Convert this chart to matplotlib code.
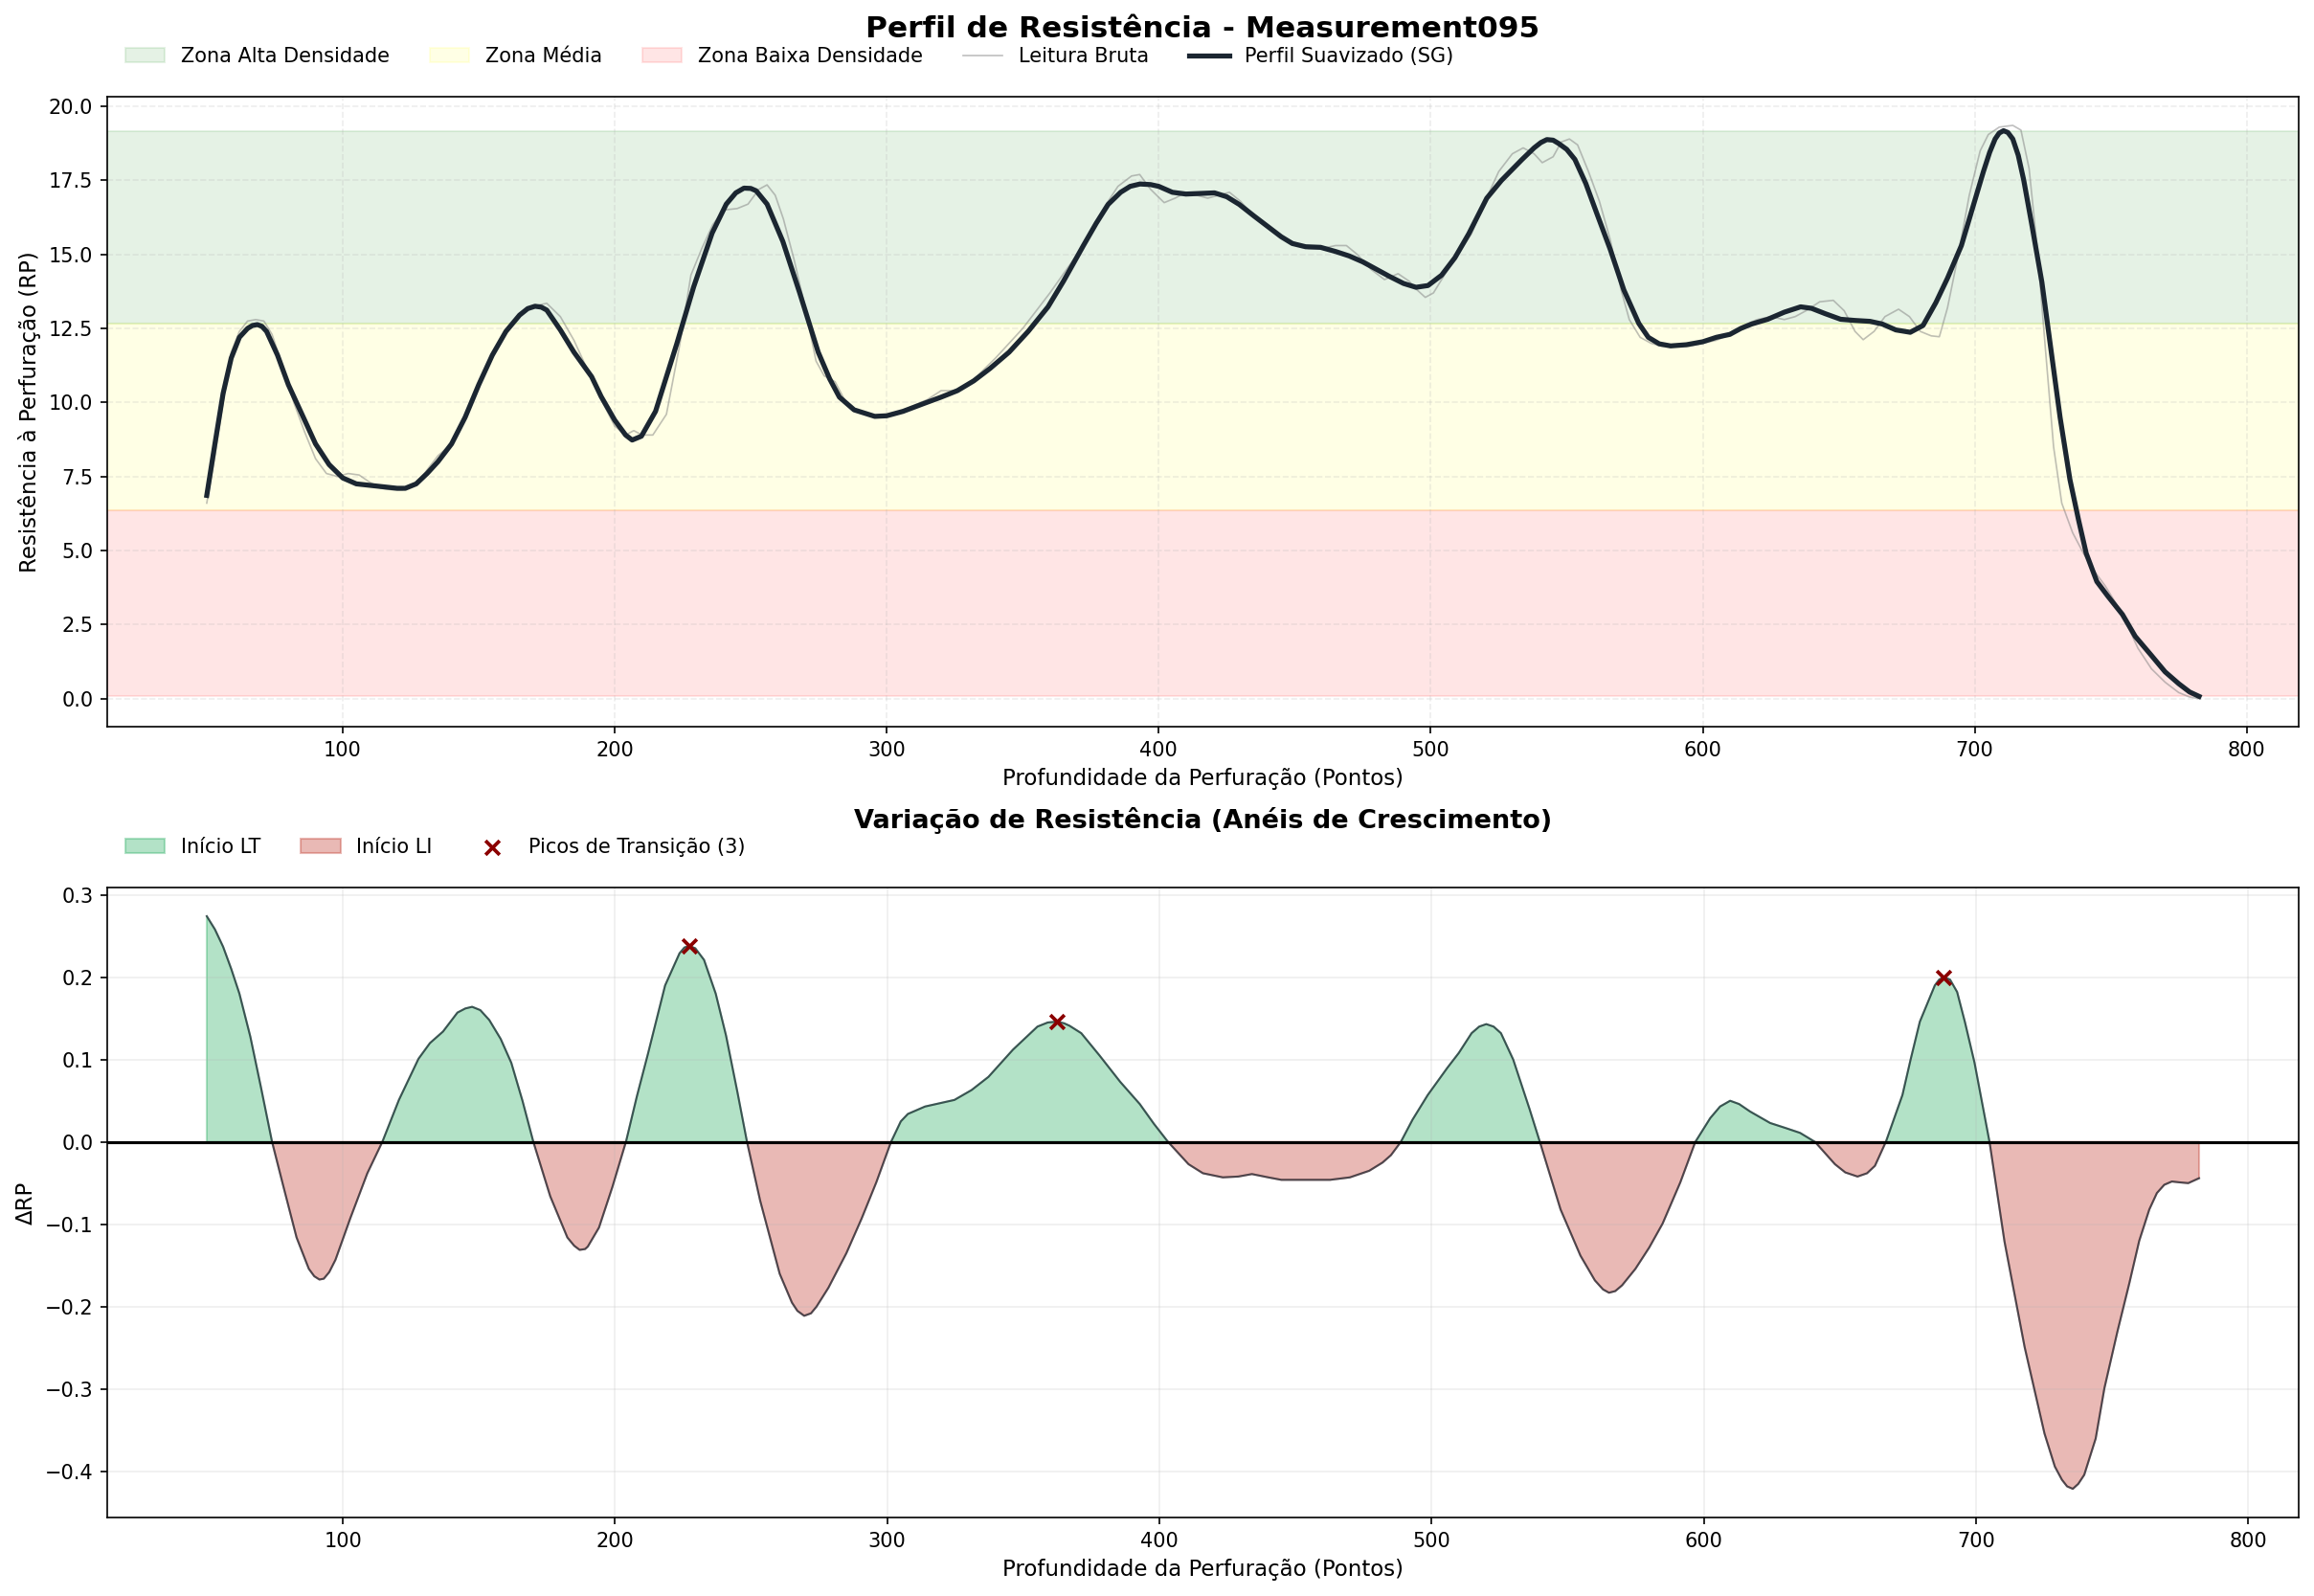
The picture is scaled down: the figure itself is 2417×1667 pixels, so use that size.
import matplotlib
matplotlib.use("Agg")
import matplotlib.pyplot as plt
import numpy as np

# ── Dados ───────────────────────────────────────────────────────────────────
sg_x = [50, 53, 56, 59, 62, 65, 66.8, 68.6, 70.3, 72, 76, 80, 85, 90, 95, 100, 105, 110, 115, 120,
        123, 127, 131, 135, 140, 145, 150, 155, 160, 165, 168, 170.7, 173, 175, 180, 185, 191.5,
        195, 200, 204, 206.4, 209.8, 215, 222.8, 229, 235.8, 241, 244.5, 247.5, 250, 252, 256,
        261.8, 268, 274.8, 279, 282.6, 288, 295.6, 300, 306, 313.8, 320, 326, 332, 338, 345, 352,
        359.3, 365, 372.3, 377, 381.4, 386, 389.5, 393.1, 397, 400, 405, 410, 415, 420.5, 425,
        429.6, 435, 440, 445, 449.1, 454, 459.5, 465, 470, 475, 480, 485, 490, 494.6, 499, 504,
        508.9, 514, 520.6, 526, 533.6, 538, 540.5, 542.7, 545, 547, 550, 553, 557, 561, 566, 571,
        576.5, 580, 584, 588.2, 594, 600, 605, 610, 614, 618, 623.9, 630, 636, 640, 645, 650.7,
        656, 661.5, 666, 671, 676.3, 681, 685.7, 690, 695.1, 699, 703.2, 705.5, 707.5, 709,
        710.6, 712.2, 714, 716, 718, 721, 724.7, 728, 731.4, 735, 738.2, 741, 744.9, 749, 754.3,
        759, 765, 770, 775, 779, 782.5]
sg_y = [6.86, 8.6, 10.3, 11.5, 12.2, 12.5, 12.6, 12.63, 12.57, 12.4, 11.6, 10.6, 9.6, 8.6, 7.9,
        7.45, 7.25, 7.2, 7.15, 7.1, 7.1, 7.25, 7.6, 8.0, 8.6, 9.5, 10.6, 11.6, 12.4, 12.95, 13.17,
        13.25, 13.22, 13.12, 12.45, 11.7, 10.87, 10.2, 9.4, 8.9, 8.73, 8.86, 9.7, 11.98, 13.9,
        15.72, 16.7, 17.08, 17.24, 17.23, 17.15, 16.7, 15.44, 13.7, 11.7, 10.8, 10.18, 9.75, 9.53,
        9.55, 9.7, 9.97, 10.18, 10.4, 10.73, 11.15, 11.7, 12.4, 13.23, 14.1, 15.3, 16.05, 16.69,
        17.1, 17.3, 17.38, 17.36, 17.3, 17.1, 17.04, 17.06, 17.08, 16.95, 16.69, 16.3, 15.95,
        15.6, 15.37, 15.26, 15.24, 15.1, 14.95, 14.75, 14.5, 14.25, 14.02, 13.89, 13.95, 14.3,
        14.89, 15.7, 16.9, 17.5, 18.21, 18.6, 18.78, 18.88, 18.86, 18.75, 18.55, 18.21, 17.4,
        16.4, 15.17, 13.8, 12.67, 12.2, 11.98, 11.91, 11.95, 12.05, 12.2, 12.3, 12.5, 12.65,
        12.81, 13.05, 13.23, 13.18, 13.0, 12.81, 12.77, 12.74, 12.65, 12.45, 12.37, 12.6, 13.37,
        14.2, 15.3, 16.5, 17.8, 18.45, 18.9, 19.1, 19.18, 19.12, 18.9, 18.35, 17.52, 16.0, 14.06,
        11.8, 9.49, 7.4, 6.02, 4.9, 3.95, 3.45, 2.84, 2.1, 1.45, 0.9, 0.5, 0.22, 0.07]

raw_x = [50, 53, 56, 59, 62, 65, 68, 71, 74, 78, 82, 86, 90, 94, 98, 102, 106, 110, 114, 118, 122,
         126, 130, 135, 140, 145, 150, 155, 160, 165, 170, 175, 180, 185, 190, 195, 200, 204, 207,
         210, 214, 219, 224, 228, 232, 236, 240, 245, 249, 253, 256, 259, 262, 266, 270, 274, 277,
         281, 285, 290, 295, 300, 305, 310, 315, 320, 325, 330, 340, 350, 360, 370, 375, 380, 385,
         390, 393, 397, 402, 406, 410, 414, 418, 422, 426, 430, 435, 440, 445, 450, 455, 460, 465,
         469, 473, 478, 483, 488, 492, 495, 498, 501, 505, 510, 515, 520, 525, 530, 534, 538, 541,
         545, 548, 551, 554, 558, 562, 566, 570, 573, 577, 581, 585, 590, 595, 600, 605, 610, 615,
         620, 625, 630, 634, 638, 643, 648, 652, 656, 659, 663, 667, 672, 676, 680, 684, 687, 690,
         694, 698, 702, 705, 709, 714, 717, 720, 723, 726, 729, 732, 736, 740, 744, 748, 752, 756,
         760, 765, 770, 775, 779, 782]
raw_y = [6.6, 8.2, 10.0, 11.7, 12.4, 12.75, 12.8, 12.75, 12.3, 11.2, 10.0, 9.0, 8.1, 7.6, 7.5,
         7.6, 7.55, 7.3, 7.1, 7.05, 7.05, 7.2, 7.6, 8.2, 8.6, 9.5, 10.6, 11.6, 12.4, 13.0, 13.25,
         13.35, 12.9, 12.1, 11.1, 10.1, 9.2, 8.9, 9.05, 8.9, 8.9, 9.6, 12.0, 14.3, 15.2, 16.0,
         16.5, 16.55, 16.7, 17.2, 17.35, 17.0, 16.2, 14.8, 13.2, 11.4, 10.9, 10.7, 10.0, 9.65,
         9.55, 9.55, 9.7, 9.9, 10.1, 10.4, 10.4, 10.6, 11.5, 12.5, 13.7, 15.0, 15.8, 16.6, 17.3,
         17.65, 17.7, 17.2, 16.75, 16.9, 17.1, 17.0, 16.9, 17.0, 17.1, 16.8, 16.3, 15.9, 15.6,
         15.4, 15.2, 15.2, 15.3, 15.3, 15.0, 14.5, 14.15, 14.35, 14.1, 13.8, 13.55, 13.7, 14.3,
         15.0, 15.7, 16.8, 17.8, 18.4, 18.6, 18.4, 18.1, 18.3, 18.8, 18.9, 18.7, 17.8, 16.8, 15.5,
         13.8, 12.8, 12.2, 12.0, 11.9, 11.9, 11.9, 12.0, 12.1, 12.3, 12.6, 12.8, 12.9, 12.8, 12.9,
         13.1, 13.4, 13.45, 13.1, 12.4, 12.12, 12.4, 12.9, 13.15, 12.9, 12.4, 12.25, 12.22, 13.2,
         15.0, 17.0, 18.5, 19.05, 19.3, 19.36, 19.2, 17.9, 15.2, 11.8, 8.5, 6.6, 5.6, 4.9, 4.3,
         3.8, 3.2, 2.5, 1.7, 1.0, 0.55, 0.2, 0.05, 0.0]

d_x = [50, 53, 56, 59, 62, 66, 70, 74, 78, 83, 87.5, 89.5, 91.4, 93, 95, 97.3, 102.7, 109, 114.5,
       120.6, 127.8, 132, 136.8, 142.1, 145, 147.5, 150.5, 153.8, 158, 161.9, 166, 170, 176.2,
       182.5, 185, 187, 189, 190, 194.1, 199, 204, 208, 212.1, 218.4, 223.7, 225.5, 227.3, 229.5,
       232.7, 237, 240.8, 245, 248.5, 253.3, 260.5, 265, 267, 269.5, 272, 274, 278.4, 285, 290.6,
       296, 301.4, 305, 307.6, 313.9, 324.7, 331, 337.2, 346.2, 355.2, 359, 362.3, 365, 367,
       371.3, 378, 385.6, 392.8, 398, 403.2, 410.7, 416, 423.3, 429, 434, 440, 444.8, 455, 462.7,
       470, 477.1, 482, 485.1, 488.7, 493, 498.6, 505.8, 510, 514.7, 517.5, 520.1, 522.8, 525.5,
       530, 532.7, 536, 539.8, 547.4, 554.7, 560, 563, 565.2, 567.5, 570, 574.9, 580, 584.9, 591.4,
       596.9, 602.4, 606, 609.7, 613, 617, 624.4, 630, 635.4, 640.9, 648.2, 652, 656.5, 660, 662.9,
       666.9, 673, 676, 679.4, 684.9, 686.5, 688.2, 690.5, 693.1, 696, 699.5, 705, 710.5, 717.9,
       725.2, 729, 731.6, 733.5, 735.6, 737.6, 739.8, 744, 747.2, 752, 756.4, 760, 763.7, 766.5,
       769.2, 772, 774.7, 778, 782]
d_y = [0.274, 0.258, 0.237, 0.21, 0.18, 0.128, 0.065, 0.0, -0.052, -0.116, -0.154, -0.163, -0.167,
       -0.166, -0.158, -0.143, -0.093, -0.038, 0.0, 0.051, 0.101, 0.12, 0.134, 0.157, 0.162,
       0.164, 0.16, 0.148, 0.125, 0.096, 0.05, 0.0, -0.066, -0.116, -0.126, -0.131, -0.13,
       -0.127, -0.104, -0.055, 0.0, 0.055, 0.107, 0.19, 0.229, 0.236, 0.238, 0.235, 0.221, 0.18,
       0.129, 0.06, 0.0, -0.071, -0.16, -0.195, -0.205, -0.211, -0.208, -0.2, -0.177, -0.135,
       -0.093, -0.049, 0.0, 0.025, 0.034, 0.043, 0.051, 0.063, 0.079, 0.112, 0.14, 0.145, 0.146,
       0.144, 0.141, 0.132, 0.105, 0.073, 0.046, 0.022, 0.0, -0.027, -0.038, -0.043, -0.042,
       -0.039, -0.043, -0.046, -0.046, -0.046, -0.043, -0.035, -0.025, -0.016, 0.0, 0.027, 0.057,
       0.09, 0.108, 0.132, 0.14, 0.143, 0.14, 0.132, 0.1, 0.073, 0.04, 0.0, -0.082, -0.138,
       -0.168, -0.179, -0.183, -0.181, -0.174, -0.154, -0.128, -0.099, -0.049, 0.0, 0.029, 0.043,
       0.05, 0.046, 0.037, 0.023, 0.017, 0.011, 0.0, -0.027, -0.037, -0.042, -0.038, -0.029,
       0.0, 0.057, 0.1, 0.146, 0.19, 0.197, 0.2, 0.197, 0.182, 0.145, 0.096, 0.0, -0.121,
       -0.249, -0.354, -0.394, -0.41, -0.418, -0.421, -0.415, -0.404, -0.36, -0.299, -0.23,
       -0.171, -0.12, -0.082, -0.062, -0.052, -0.048, -0.049, -0.05, -0.044]

picos_x = [227.3, 362.3, 688.2]
picos_y = [0.238, 0.146, 0.2]

# limites das zonas de densidade
zonas = [0.07, 6.37, 12.67, 19.18]

sg_x, sg_y = np.array(sg_x), np.array(sg_y)
d_x, d_y = np.array(d_x), np.array(d_y)

# ── Figura ──────────────────────────────────────────────────────────────────
fig = plt.figure(figsize=(2417 / 150, 1667 / 150), dpi=150)
ax1 = fig.add_axes([0.0463, 0.5444, 0.9471, 0.3950])
ax2 = fig.add_axes([0.0463, 0.0492, 0.9471, 0.3947])

# Painel superior
ax1.axhspan(zonas[2], zonas[3], color="green", alpha=0.1, label="Zona Alta Densidade")
ax1.axhspan(zonas[1], zonas[2], color="yellow", alpha=0.1, label="Zona Média")
ax1.axhspan(zonas[0], zonas[1], color="red", alpha=0.1, label="Zona Baixa Densidade")
ax1.plot(raw_x, raw_y, color="gray", lw=0.8, alpha=0.5, label="Leitura Bruta")
ax1.plot(sg_x, sg_y, color="#1b2631", lw=2.5, label="Perfil Suavizado (SG)")
ax1.set_title("Perfil de Resistência - Measurement095", fontsize=15, fontweight="bold", pad=30)
ax1.set_xlabel("Profundidade da Perfuração (Pontos)", fontsize=11)
ax1.set_ylabel("Resistência à Perfuração (RP)", fontsize=11)
ax1.grid(True, ls="--", alpha=0.22)
ax1.tick_params(labelsize=10)
ax1.legend(loc="center left", bbox_to_anchor=(0, 1.064), ncol=5, frameon=False, fontsize=10)

# Painel inferior
ax2.fill_between(d_x, d_y, 0, where=d_y >= 0, interpolate=True,
                 color="#27ae60", alpha=0.35, label="Início LT")
ax2.fill_between(d_x, d_y, 0, where=d_y <= 0, interpolate=True,
                 color="#c0392b", alpha=0.35, label="Início LI")
ax2.plot(d_x, d_y, color="#1b2631", lw=1, alpha=0.75)
ax2.axhline(0, color="black", lw=1.5)
ax2.scatter(picos_x, picos_y, marker="x", color="darkred", s=50, lw=1.8, zorder=5,
            label=f"Picos de Transição ({len(picos_x)})")
ax2.set_title("Variação de Resistência (Anéis de Crescimento)", fontsize=13,
              fontweight="bold", pad=30)
ax2.set_xlabel("Profundidade da Perfuração (Pontos)", fontsize=11)
ax2.set_ylabel("ΔRP", fontsize=11)
ax2.grid(True, alpha=0.2)
ax2.tick_params(labelsize=10)
ax2.legend(loc="center left", bbox_to_anchor=(0, 1.064), ncol=3, frameon=False, fontsize=10)

fig.savefig("out.png", dpi=150)
